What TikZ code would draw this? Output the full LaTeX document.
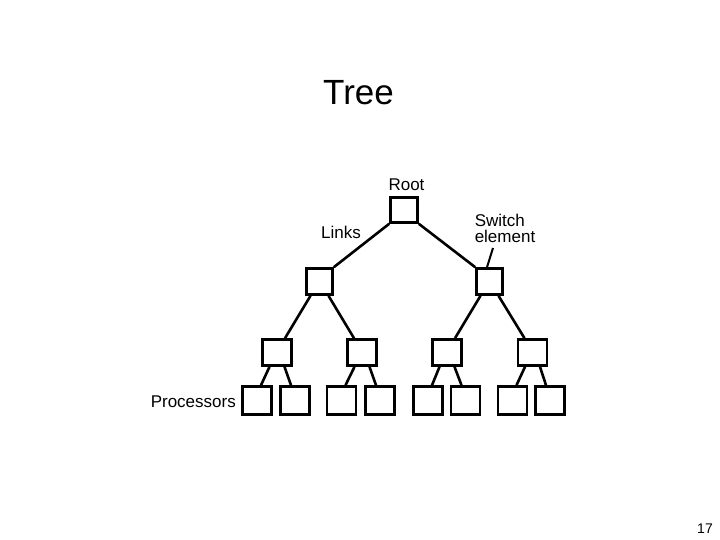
\documentclass[tikz,border=0pt]{standalone}
\usepackage{fontspec}
\setmainfont{Liberation Sans}
\usetikzlibrary{calc}
\begin{document}
\begin{tikzpicture}[x=1pt,y=-1pt,
  sq/.style={draw, line width=2.6pt, inner sep=0pt},
  midsq/.style={sq, minimum width=26pt, minimum height=26pt},
  lowsq/.style={sq, minimum width=29pt, minimum height=26pt},
  procsq/.style={sq, minimum width=29pt, minimum height=28pt},
  link/.style={line width=2.6pt},
  lab/.style={font=\fontsize{17}{16}\selectfont, inner sep=0pt}]
\useasboundingbox (0,0) rectangle (720,540);
\node[anchor=base, font=\fontsize{35}{40}\selectfont, inner sep=0pt] (title) at (358.5,105) {Tree};
% tree
\node[sq, minimum width=27pt, minimum height=25pt] (root) at (404,210) {};
\node[midsq] (a) at (319.5,281.5) {};
\node[midsq] (b) at (489.5,281.5) {};
\node[lowsq] (c1) at (277,352.5) {};
\node[lowsq] (c2) at (362,352.5) {};
\node[lowsq] (c3) at (447,352.5) {};
\node[lowsq] (c4) at (532.5,352.5) {};
\foreach \n/\x in {1/257,2/295,3/341.5,4/380,5/428,6/465.5,7/512.5,8/550}
  \node[procsq] (p\n) at (\x,400.5) {};
% links
\draw[link] (root.south west) -- (a.north east);
\draw[link] (root.south east) -- (b.north west);
\foreach \u/\l/\r in {a/c1/c2, b/c3/c4} {
  \draw[link] ($(\u.south)+(-9,0)$) -- ($(\l.north)+(8,0)$);
  \draw[link] ($(\u.south)+(9,0)$) -- ($(\r.north)+(-8,0)$);
}
\foreach \c/\l/\r in {c1/p1/p2, c2/p3/p4, c3/p5/p6, c4/p7/p8} {
  \draw[link] ($(\c.south)+(-7.5,0)$) -- ($(\l.north)+(4,0)$);
  \draw[link] ($(\c.south)+(7.5,0)$) -- ($(\r.north)+(-4,0)$);
}
% labels
\node[lab, anchor=base] (rootlab) at (406.5,190.5) {Root};
\node[lab, anchor=base] (links) at (341,238) {Links};
\node[lab, align=left] (sw) at (505,228) {Switch\\element};
\node[lab, anchor=base east] (proc) at (236,407) {Processors};
\node[anchor=base east, font=\fontsize{14}{16}\selectfont, inner sep=0pt] (pg) at (713,533) {17};
\coordinate (swp) at (493,248);
\draw[line width=2pt] (swp) -- ($(b.north)+(-2.5,0)$);
\end{tikzpicture}
\end{document}
